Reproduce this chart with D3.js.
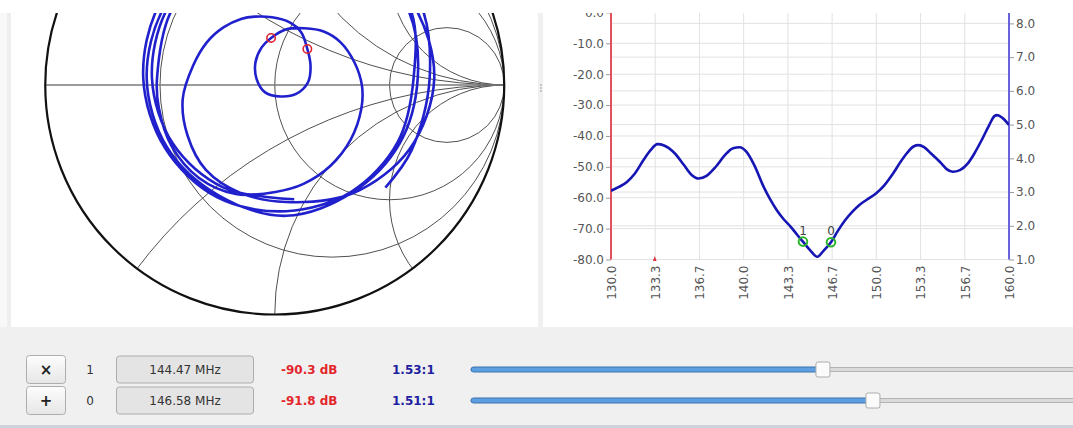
<!DOCTYPE html>
<html><head><meta charset="utf-8">
<script src="https://cdn.jsdelivr.net/npm/d3@7"></script>
<style>
html,body{margin:0;padding:0;background:#f0f0f0;overflow:hidden}
svg{display:block}
text{font-family:"DejaVu Sans",Verdana,sans-serif}
</style></head><body>
<svg id="c" width="1073" height="428"></svg>
<script>
// Sweep frequencies (MHz) and the SWR along the sweep
const sweepMHz = [130.0,130.6,131.2,131.8,132.4,133.0,133.5,134.0,134.8,135.5,136.1,136.6,137.2,137.9,138.6,139.2,139.7,140.2,140.8,141.5,142.0,142.5,143.0,143.55,144.0,144.47,145.0,145.55,146.0,146.58,147.1,147.66,148.2,148.7,149.3,149.97,150.6,151.26,151.8,152.3,152.8,153.19,153.6,154.1,154.9,155.3,155.76,156.3,156.9,157.4,157.94,158.5,158.9,159.1,159.5,160.0];
const swrValues = [3.04,3.15,3.30,3.55,3.92,4.25,4.42,4.38,4.15,3.80,3.50,3.40,3.48,3.75,4.10,4.30,4.33,4.20,3.80,3.16,2.78,2.46,2.20,1.97,1.75,1.53,1.28,1.08,1.25,1.51,1.85,2.17,2.42,2.61,2.78,2.96,3.20,3.55,3.88,4.15,4.35,4.39,4.33,4.15,3.85,3.68,3.60,3.65,3.85,4.15,4.54,4.98,5.25,5.28,5.20,4.99];

// S21 transmission (dB); almost all of it sits below the -80 dB floor
const s21MHz = [133.1,133.3,133.5,144.47,146.58];
const s21dB = [-82,-79.6,-82,-90.3,-91.8];

// S11 reflection coefficient along the sweep (real / imaginary)
const s11Re = [0.085,-0.225,-0.444,-0.535,-0.470,-0.260,0.050,0.365,0.578,0.623,0.544,0.338,0.050,
 -0.245,-0.470,-0.558,-0.483,-0.263,0.050,0.368,0.604,0.695,0.587,0.340,0.050,
 -0.150,-0.300,-0.380,-0.401,-0.356,-0.296,-0.222,-0.147,-0.087,-0.012,0.063,0.115,0.142,0.156,0.145,0.093,0.025,-0.042,-0.079,-0.084,-0.057,-0.016,0.048,0.130,0.213,0.287,0.347,0.380,0.377,0.332,0.243,0.123,0.003,
 -0.170,-0.330,-0.450,-0.505,-0.513,
 -0.452,-0.250,0.050,0.360,0.587,0.605,0.535,0.335,0.050,
 -0.250,-0.478,-0.573,-0.504,-0.280,0.050,0.395,0.630,0.675,0.596,0.482];
const s11Im = [-0.498,-0.446,-0.255,0.030,0.330,0.567,0.660,0.576,0.335,0.030,-0.255,-0.468,-0.570,
 -0.481,-0.270,0.030,0.338,0.571,0.655,0.580,0.350,0.030,-0.280,-0.472,-0.510,
 -0.470,-0.370,-0.220,-0.061,0.084,0.186,0.252,0.288,0.298,0.295,0.274,0.230,0.157,0.084,0.012,-0.039,-0.050,-0.032,0.026,0.099,0.164,0.205,0.242,0.247,0.233,0.186,0.099,-0.003,-0.105,-0.236,-0.352,-0.432,-0.466,
 -0.475,-0.405,-0.265,-0.100,0.030,
 0.320,0.550,0.650,0.570,0.340,0.030,-0.250,-0.464,-0.550,
 -0.490,-0.275,0.030,0.350,0.600,0.710,0.628,0.365,0.030,-0.285,-0.447];

// Smith chart grid: constant-resistance circles and constant-reactance arcs
const resistanceCircles = [1/3, 1, 3];
const reactanceArcs = [0.5, 1, 2, -0.5, -1, -2];

// Axis ticks
const freqTickLabels = ["130.0","133.3","136.7","140.0","143.3","146.7","150.0","153.3","156.7","160.0"];
const dbTicks = [0,-10,-20,-30,-40,-50,-60,-70,-80];
const swrTicks = [1,2,3,4,5,6,7,8];

// Markers
const markerIds = ["1","0"];
const markerMHz = [144.47, 146.58];
const markerDb = [-90.3, -91.8];
const markerSwr = [1.53, 1.51];
const markerRe = [0.142, -0.016];
const markerIm = [0.157, 0.205];

const W = 1073, H = 428;
const svg = d3.select("#c");
const defs = svg.append("defs");

// ---------- window background ----------
svg.append("rect").attr("width", W).attr("height", H).attr("fill", "#f0f0f0");
svg.append("rect").attr("x", 0).attr("y", 0).attr("width", W).attr("height", 327).attr("fill", "#ffffff");
svg.append("rect").attr("x", 0).attr("y", 13).attr("width", 7).attr("height", 314).attr("fill", "#f8f8f8");
svg.append("rect").attr("x", 7).attr("y", 13).attr("width", 4).attr("height", 314).attr("fill", "#eeeeee");
svg.append("rect").attr("x", 538).attr("y", 13).attr("width", 5).attr("height", 314).attr("fill", "#f0f0f0");
svg.selectAll("circle.grip").data([85, 88, 91]).join("circle")
  .attr("cx", 541).attr("cy", d => d).attr("r", 0.8).attr("fill", "#999");

defs.append("clipPath").attr("id", "view")
  .append("rect").attr("x", 0).attr("y", 13).attr("width", W).attr("height", 314);

// ---------- Smith chart ----------
const cx = 274.75, cy = 85, R = 229.5;
const gx = d3.scaleLinear().domain([-1, 1]).range([cx - R, cx + R]);
const gy = d3.scaleLinear().domain([-1, 1]).range([cy + R, cy - R]);
const rs = d3.scaleLinear().domain([0, 1]).range([0, R]);

defs.append("clipPath").attr("id", "unit")
  .append("circle").attr("cx", gx(0)).attr("cy", gy(0)).attr("r", rs(1));

const smith = svg.append("g").attr("clip-path", "url(#view)");
const grid = smith.append("g").attr("clip-path", "url(#unit)");

grid.selectAll("circle.res").data(resistanceCircles).join("circle")
  .attr("cx", r => gx(r / (1 + r))).attr("cy", gy(0)).attr("r", r => rs(1 / (1 + r)))
  .attr("fill", "none").attr("stroke", "#505050").attr("stroke-width", 1);

grid.selectAll("circle.react").data(reactanceArcs).join("circle")
  .attr("cx", gx(1)).attr("cy", x => gy(1 / x)).attr("r", x => rs(1 / Math.abs(x)))
  .attr("fill", "none").attr("stroke", "#505050").attr("stroke-width", 1);

smith.append("line")
  .attr("x1", gx(-1)).attr("x2", gx(1)).attr("y1", gy(0)).attr("y2", gy(0))
  .attr("stroke", "#7a7a7a").attr("stroke-width", 1.5);

smith.append("circle").attr("cx", gx(0)).attr("cy", gy(0)).attr("r", rs(1))
  .attr("fill", "none").attr("stroke", "#111").attr("stroke-width", 2.2);

const s11Pts = s11Re.map((re, i) => [re, s11Im[i]]);
smith.append("path").datum(s11Pts)
  .attr("d", d3.line().x(p => gx(p[0])).y(p => gy(p[1])).curve(d3.curveCatmullRom.alpha(0.5)))
  .attr("fill", "none").attr("stroke", "#2020cc").attr("stroke-width", 2.6)
  .attr("stroke-linejoin", "round");

smith.selectAll("circle.mk").data(markerRe).join("circle")
  .attr("cx", (re) => gx(re)).attr("cy", (re, i) => gy(markerIm[i])).attr("r", 4.2)
  .attr("fill", "none").attr("stroke", "#e0242e").attr("stroke-width", 1.6);

// ---------- SWR / dB chart ----------
const x = d3.scaleLinear().domain([130, 160]).range([611, 1009]);
const yDb = d3.scaleLinear().domain([-80, 0]).range([259.5, 12.4]);
const ySwr = d3.scaleLinear().domain([1, 8]).range([259.5, 23.4]);
const freqTicks = freqTickLabels.map((t, i) => 130 + i * 30 / (freqTickLabels.length - 1));

const plot = svg.append("g").attr("clip-path", "url(#view)");
defs.append("clipPath").attr("id", "plotArea")
  .append("rect").attr("x", x(130)).attr("y", 0).attr("width", x(160) - x(130)).attr("height", 261);

const gridG = plot.append("g");
gridG.selectAll("line.v").data(freqTicks).join("line")
  .attr("x1", d => x(d)).attr("x2", d => x(d)).attr("y1", 0).attr("y2", yDb(-80))
  .attr("stroke", "#e2e2e2").attr("stroke-width", 1);
gridG.selectAll("line.hdb").data(dbTicks).join("line")
  .attr("x1", x(130)).attr("x2", x(160)).attr("y1", d => yDb(d)).attr("y2", d => yDb(d))
  .attr("stroke", d => d === -80 ? "#cfcfcf" : "#e2e2e2").attr("stroke-width", 1);
gridG.selectAll("line.hswr").data(swrTicks).join("line")
  .attr("x1", x(130)).attr("x2", x(160)).attr("y1", d => ySwr(d)).attr("y2", d => ySwr(d))
  .attr("stroke", "#e2e2e2").attr("stroke-width", 1);

// left dB axis
const axL = plot.append("g").attr("transform", `translate(${x(130)},0)`)
  .call(d3.axisLeft(yDb).tickValues(dbTicks).tickFormat(d => d.toFixed(1)).tickSize(5).tickPadding(2));
axL.select(".domain").remove();
axL.selectAll("line").attr("stroke", "#9a9a9a");
axL.selectAll("text").attr("fill", "#555").style("font-size", "12px").style("font-family", '"DejaVu Sans",Verdana,sans-serif');
plot.append("line").attr("x1", x(130)).attr("x2", x(130)).attr("y1", 0).attr("y2", yDb(-80))
  .attr("stroke", "#e0505e").attr("stroke-width", 2);

// right SWR axis
const axR = plot.append("g").attr("transform", `translate(${x(160)},0)`)
  .call(d3.axisRight(ySwr).tickValues(swrTicks).tickFormat(d => d.toFixed(1)).tickSize(5).tickPadding(2));
axR.select(".domain").remove();
axR.selectAll("line").attr("stroke", "#9a9a9a");
axR.selectAll("text").attr("fill", "#555").style("font-size", "12px").style("font-family", '"DejaVu Sans",Verdana,sans-serif');
plot.append("line").attr("x1", x(160)).attr("x2", x(160)).attr("y1", 0).attr("y2", ySwr(1))
  .attr("stroke", "#6a62dc").attr("stroke-width", 2);

// bottom frequency axis, vertical labels
const axB = plot.append("g").attr("transform", `translate(0,${yDb(-80)})`)
  .call(d3.axisBottom(x).tickValues(freqTicks).tickFormat((d, i) => freqTickLabels[i]).tickSize(0));
axB.select(".domain").remove();
axB.selectAll("text")
  .attr("transform", "rotate(-90)").attr("x", -6).attr("y", 0).attr("dy", "0.36em")
  .style("text-anchor", "end").attr("fill", "#555")
  .style("font-size", "12px").style("font-family", '"DejaVu Sans",Verdana,sans-serif');

const traces = plot.append("g").attr("clip-path", "url(#plotArea)");
traces.append("path").datum(s21MHz.map((f, i) => [f, s21dB[i]]))
  .attr("d", d3.line().x(p => x(p[0])).y(p => yDb(p[1])))
  .attr("fill", "none").attr("stroke", "#e0303a").attr("stroke-width", 1.6);
traces.append("path").datum(sweepMHz.map((f, i) => [f, swrValues[i]]))
  .attr("d", d3.line().x(p => x(p[0])).y(p => ySwr(p[1])).curve(d3.curveMonotoneX))
  .attr("fill", "none").attr("stroke", "#1616b4").attr("stroke-width", 2.6);

plot.selectAll("circle.gm").data(markerMHz).join("circle")
  .attr("cx", f => x(f)).attr("cy", (f, i) => ySwr(markerSwr[i])).attr("r", 4.3)
  .attr("fill", "none").attr("stroke", "#2ab52a").attr("stroke-width", 2);
plot.selectAll("text.gl").data(markerMHz).join("text")
  .attr("x", f => x(f)).attr("y", (f, i) => ySwr(markerSwr[i]) - 7)
  .attr("text-anchor", "middle").attr("fill", "#444").style("font-size", "12px")
  .text((f, i) => markerIds[i]);

// ---------- marker rows ----------
const rowY = [369.5, 400.5];
const grad = defs.append("linearGradient").attr("id", "btn").attr("x1", 0).attr("x2", 0).attr("y1", 0).attr("y2", 1);
grad.append("stop").attr("offset", "0%").attr("stop-color", "#fdfdfd");
grad.append("stop").attr("offset", "100%").attr("stop-color", "#e6e6e6");

const rows = svg.selectAll("g.row").data(markerIds).join("g")
  .attr("transform", (d, i) => `translate(0,${rowY[i]})`);

rows.append("rect").attr("x", 26.5).attr("y", -14).attr("width", 39).attr("height", 28).attr("rx", 3)
  .attr("fill", "url(#btn)").attr("stroke", "#adadad");
rows.append("text").attr("x", 46).attr("y", 0).attr("dy", "0.36em").attr("text-anchor", "middle")
  .attr("fill", "#222").style("font-size", "15px").style("font-weight", "bold")
  .text((d, i) => i === 0 ? "×" : "+");
rows.append("text").attr("x", 90).attr("y", 0).attr("dy", "0.36em").attr("text-anchor", "middle")
  .attr("fill", "#333").style("font-size", "12px").text(d => d);
rows.append("rect").attr("x", 116.5).attr("y", -13.5).attr("width", 137).attr("height", 27).attr("rx", 3)
  .attr("fill", "#e4e4e4").attr("stroke", "#adadad");
rows.append("text").attr("x", 185).attr("y", 0).attr("dy", "0.36em").attr("text-anchor", "middle")
  .attr("fill", "#333").style("font-size", "12px")
  .text((d, i) => markerMHz[i].toFixed(2) + " MHz");
rows.append("text").attr("x", 281).attr("y", 0).attr("dy", "0.36em")
  .attr("fill", "#e3262c").style("font-size", "12px").style("font-weight", "bold")
  .text((d, i) => markerDb[i].toFixed(1) + " dB");
rows.append("text").attr("x", 392).attr("y", 0).attr("dy", "0.36em")
  .attr("fill", "#1e1ea0").style("font-size", "12px").style("font-weight", "bold")
  .text((d, i) => markerSwr[i].toFixed(2) + ":1");

// frequency sliders
const sx = d3.scaleLinear().domain([130, 160]).range([480, 1191]);
rows.append("rect").attr("x", 471).attr("y", -2).attr("width", 740).attr("height", 4).attr("rx", 2)
  .attr("fill", "#dadada").attr("stroke", "#b4b4b4").attr("stroke-width", 1);
rows.append("rect").attr("x", 471).attr("y", -2.5).attr("width", (d, i) => sx(markerMHz[i]) - 471).attr("height", 5).attr("rx", 2.5)
  .attr("fill", "#5d9fe0").attr("stroke", "#3b73b0").attr("stroke-width", 1);
rows.append("rect").attr("x", (d, i) => sx(markerMHz[i]) - 7).attr("y", -7.5).attr("width", 14).attr("height", 15).attr("rx", 2)
  .attr("fill", "#fbfbfb").attr("stroke", "#acacac");

svg.append("rect").attr("x", 0).attr("y", 425).attr("width", W).attr("height", 3).attr("fill", "#cbd3db");
</script>
</body></html>
